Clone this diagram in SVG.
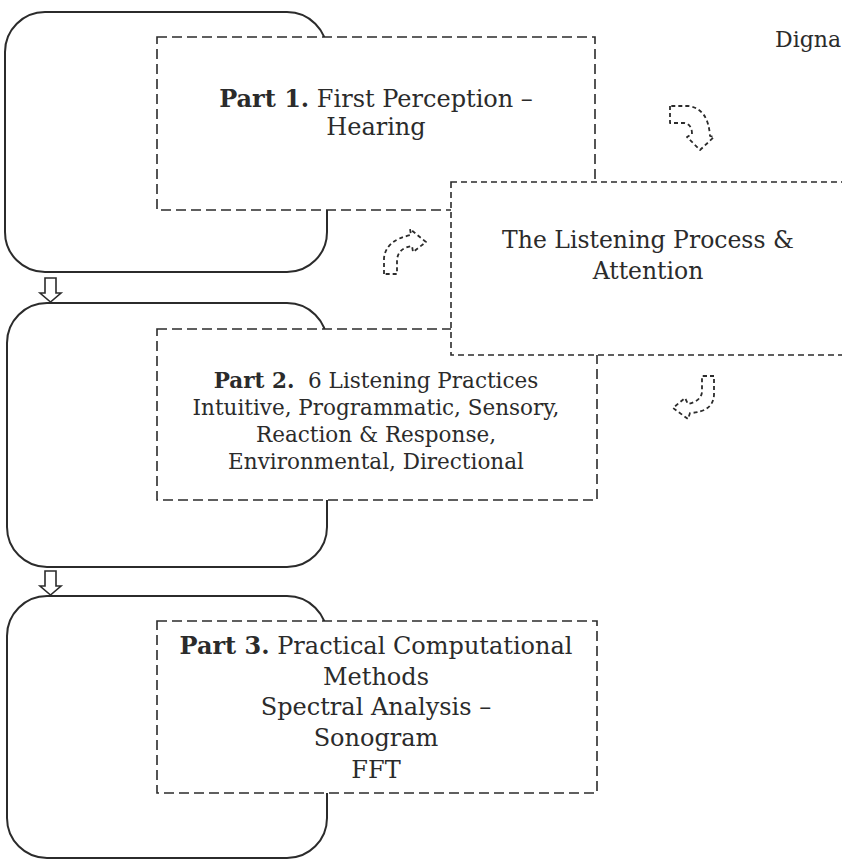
<svg xmlns="http://www.w3.org/2000/svg" width="842" height="861" viewBox="0 0 842 861">
<style>
  .frame { fill: none; stroke: #2b2b2b; stroke-width: 2; }
  .box { fill: #ffffff; stroke: #2b2b2b; stroke-width: 1.6; stroke-dasharray: 10 5; }
  .boxs { fill: #ffffff; stroke: #2b2b2b; stroke-width: 1.6; stroke-dasharray: 6 4; }
  .down { fill: #ffffff; stroke: #2b2b2b; stroke-width: 1.6; }
  .curv { fill: none; stroke: #2b2b2b; stroke-width: 1.8; stroke-dasharray: 4 3; stroke-linejoin: round; }
  text { font-family: "DejaVu Serif", "Liberation Serif", serif; fill: #2b2b2b; text-anchor: middle; white-space: pre; }
  .b { font-weight: bold; }
</style>
<rect width="842" height="861" fill="#ffffff"/>

<g id="frame1"><rect class="frame" x="5" y="12" width="322" height="260" rx="40" ry="40"/></g>
<g id="frame2"><rect class="frame" x="7" y="303" width="320" height="264" rx="40" ry="40"/></g>
<g id="frame3"><rect class="frame" x="7" y="596" width="320" height="262" rx="40" ry="40"/></g>

<g id="connectors">
  <path class="down" d="M45,278 L56,278 L56,293 L61,293 L50.5,302 L40,293 L45,293 Z"/>
  <path class="down" d="M45,571 L56,571 L56,586 L61,586 L50.5,595 L40,586 L45,586 Z"/>
  <path class="curv" d="M384,274 L384,258 Q386,240 411,235 L410,229 L426,242 L413,252 L412,246 Q398,248 397,260 L397,274 Z"/>
  <path class="curv" d="M670,106 L670,123 L684,123 Q692,124 692,134 L687,137 L700,150 L714,137 L710,136 Q708,108 688,106 Z"/>
  <path class="curv" d="M703,376 L714,376 L714,395 Q713,412 690,413 L688,419 L673,408 L685,398 L688,404 Q701,401 702,392 L702,376 Z"/>
</g>

<g id="part1">
  <rect class="box" x="157" y="37" width="438" height="173"/>
  <text x="376" y="107" font-size="24"><tspan class="b">Part 1.</tspan> First Perception –</text>
  <text x="376" y="135" font-size="24">Hearing</text>
</g>

<g id="part2">
  <rect class="box" x="157" y="329" width="440" height="171"/>
  <text x="376" y="388" font-size="21.5"><tspan class="b">Part 2.</tspan>  6 Listening Practices</text>
  <text x="376" y="415" font-size="21.5">Intuitive, Programmatic, Sensory,</text>
  <text x="376" y="442" font-size="21.5">Reaction &amp; Response,</text>
  <text x="376" y="469" font-size="21.5">Environmental, Directional</text>
</g>

<g id="listening">
  <rect class="boxs" x="451" y="182" width="460" height="173"/>
  <text x="648" y="248" font-size="23.5">The Listening Process &amp;</text>
  <text x="648" y="279" font-size="23.5">Attention</text>
</g>

<g id="part3">
  <rect class="box" x="157" y="621" width="440" height="172"/>
  <text x="376" y="654" font-size="24"><tspan class="b">Part 3.</tspan> Practical Computational</text>
  <text x="376" y="685" font-size="24">Methods</text>
  <text x="376" y="715" font-size="24">Spectral Analysis –</text>
  <text x="376" y="746" font-size="24">Sonogram</text>
  <text x="376" y="778" font-size="24">FFT</text>
</g>

<g id="digna">
  <text x="775" y="47" font-size="22" style="text-anchor:start">Digna</text>
</g>
</svg>
